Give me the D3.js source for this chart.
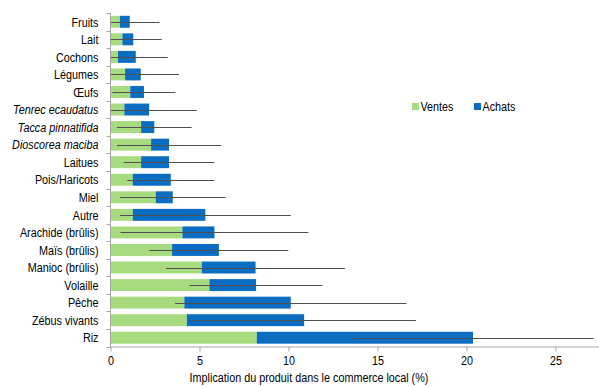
<!DOCTYPE html>
<html>
<head>
<meta charset="utf-8">
<script src="https://cdn.jsdelivr.net/npm/d3@7"></script>
<style>
  html, body { margin: 0; padding: 0; background: #fff; }
  svg { display: block; }
  svg text { font-family: "Liberation Sans", Arial, sans-serif; }
</style>
</head>
<body>
<svg id="chart" width="599" height="387"></svg>
<script>
// Products, top to bottom
const categories = [
  "Fruits", "Lait", "Cochons", "Légumes", "Œufs",
  "Tenrec ecaudatus", "Tacca pinnatifida", "Dioscorea maciba",
  "Laitues", "Pois/Haricots", "Miel", "Autre",
  "Arachide (brûlis)", "Maïs (brûlis)", "Manioc (brûlis)",
  "Volaille", "Pêche", "Zébus vivants", "Riz"
];
// Scientific names are set in italics
const italicNames = ["Tenrec ecaudatus", "Tacca pinnatifida", "Dioscorea maciba"];

// Share of local trade (%) for sales and purchases
const ventes = [0.53, 0.67, 0.42, 0.82, 1.11, 0.78, 1.72, 2.28, 1.72, 1.25, 2.54, 1.25,
                4.04, 3.46, 5.13, 5.56, 4.15, 4.29, 8.22];
const achats = [0.55, 0.61, 1.00, 0.88, 0.77, 1.39, 0.74, 1.01, 1.57, 2.14, 0.96, 4.08,
                1.80, 2.63, 3.02, 2.62, 5.98, 6.59, 12.15];
// Error on the total (Ventes + Achats)
const erreurs = [1.67, 1.60, 1.80, 2.15, 1.77, 2.68, 2.10, 2.93, 2.55, 2.45, 2.97, 4.80,
                 5.28, 3.90, 5.03, 3.73, 6.50, 6.28, 6.77];

const xTicks = [0, 5, 10, 15, 20, 25];
const seriesNames = ["Ventes", "Achats"];
const colors = { Ventes: "#a8da7f", Achats: "#0b6dc2" };

// Condensed lettering: regular sans squeezed horizontally
const fontSize = "13.5px";
const squeeze = 0.8;

const svg = d3.select("#chart");
const plotLeft = 110.5, plotRight = 599, plotTop = 13, plotBottom = 346.5;

const x = d3.scaleLinear().domain([0, 27.45]).range([plotLeft, plotRight]);
const y = d3.scaleBand().domain(categories).range([plotTop, plotBottom])
  .paddingInner(0.32).paddingOuter(0.16);

const rows = categories.map((c, i) => ({
  cat: c, v: ventes[i], a: achats[i], e: erreurs[i], total: ventes[i] + achats[i]
}));

// Stacked bars
const g = svg.append("g");
g.selectAll("rect.ventes").data(rows).join("rect")
  .attr("class", "ventes")
  .attr("x", x(0))
  .attr("y", d => y(d.cat))
  .attr("width", d => x(d.v) - x(0))
  .attr("height", y.bandwidth())
  .attr("fill", colors.Ventes);
g.selectAll("rect.achats").data(rows).join("rect")
  .attr("class", "achats")
  .attr("x", d => x(d.v))
  .attr("y", d => y(d.cat))
  .attr("width", d => x(d.total) - x(d.v))
  .attr("height", y.bandwidth())
  .attr("fill", colors.Achats);

// Error bars around the total, clipped at zero
g.selectAll("line.err").data(rows).join("line")
  .attr("class", "err")
  .attr("x1", d => x(Math.max(0, d.total - d.e)))
  .attr("x2", d => x(d.total + d.e))
  .attr("y1", d => Math.round(y(d.cat) + y.bandwidth() / 2) + 0.5)
  .attr("y2", d => Math.round(y(d.cat) + y.bandwidth() / 2) + 0.5)
  .attr("stroke", "#4f4f4f")
  .attr("stroke-width", 1);

// X axis
const xAxis = svg.append("g")
  .attr("transform", `translate(0,${plotBottom})`)
  .call(d3.axisBottom(x).tickValues(xTicks).tickSize(5).tickPadding(4).tickFormat(d3.format("d")));
xAxis.attr("font-family", null).attr("font-size", null);
xAxis.select(".domain").attr("stroke", "#a6a6a6").attr("d", `M${plotLeft},0.5H${plotRight}`);
xAxis.selectAll(".tick line").attr("stroke", "#a6a6a6");
xAxis.selectAll(".tick text").attr("fill", "#000").style("font-size", fontSize)
  .attr("transform", `scale(${squeeze},1)`);

svg.append("text")
  .attr("transform", `translate(309,382) scale(${squeeze},1)`)
  .attr("text-anchor", "middle")
  .style("font-size", fontSize)
  .text("Implication du produit dans le commerce local (%)");

// Y axis with ticks between categories
const step = y.step();
const bounds = d3.range(categories.length + 1).map(i => plotTop + i * step);
svg.append("line")
  .attr("x1", plotLeft).attr("x2", plotLeft).attr("y1", plotTop).attr("y2", plotBottom)
  .attr("stroke", "#a6a6a6");
svg.selectAll("line.ytick").data(bounds).join("line")
  .attr("class", "ytick")
  .attr("x1", plotLeft - 4).attr("x2", plotLeft)
  .attr("y1", d => Math.round(d) + 0.5).attr("y2", d => Math.round(d) + 0.5)
  .attr("stroke", "#a6a6a6");

svg.selectAll("text.cat").data(categories).join("text")
  .attr("class", "cat")
  .attr("transform", d => `translate(98.5,${y(d) + y.bandwidth() / 2}) scale(${squeeze},1)`)
  .attr("dy", "0.35em")
  .attr("text-anchor", "end")
  .style("font-size", fontSize)
  .style("font-style", d => italicNames.includes(d) ? "italic" : "normal")
  .text(d => d);

// Legend
const legend = svg.append("g");
const legendPos = [{ name: "Ventes", x: 412 }, { name: "Achats", x: 474 }];
legendPos.forEach(p => {
  legend.append("rect").attr("x", p.x).attr("y", 103).attr("width", 7).attr("height", 7)
    .attr("fill", colors[p.name]);
  legend.append("text")
    .attr("transform", `translate(${p.x + 8.5},106.5) scale(${squeeze},1)`)
    .attr("dy", "0.35em")
    .style("font-size", fontSize).text(p.name);
});
</script>
</body>
</html>
